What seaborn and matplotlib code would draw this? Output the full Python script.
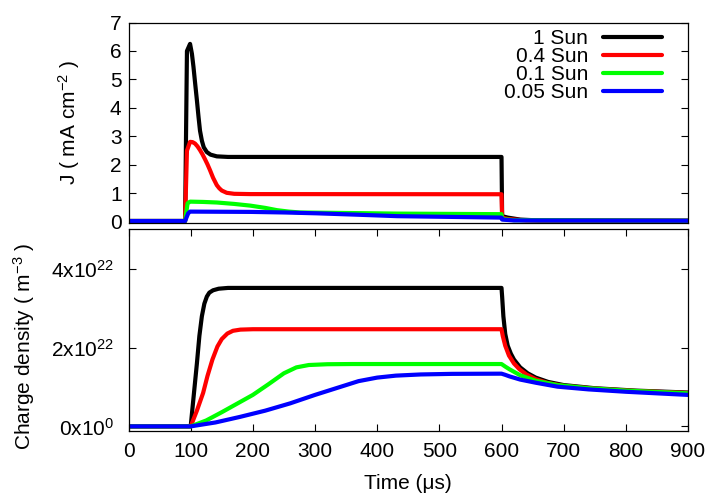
import numpy as np
import pandas as pd
import matplotlib
matplotlib.use("Agg")
import matplotlib.pyplot as plt
import seaborn as sns

# noms et couleurs des courbes
series_names = ["1 Sun", "0.4 Sun", "0.1 Sun", "0.05 Sun"]
series_colors = ["#000000", "#ff0000", "#00ff00", "#0000ff"]

# densite de courant J (mA cm^-2) en fonction du temps (us)
t_j_1sun = [0, 91, 94, 99, 102, 104.5, 107, 110, 112.6, 115, 118, 121, 126, 132, 142, 160,
            600, 601, 610, 630, 660, 900]
j_1sun = [0.03, 0.03, 6.0, 6.25, 5.9, 5.44, 4.9, 4.27, 3.69, 3.2, 2.85, 2.62, 2.45, 2.36, 2.3, 2.28,
          2.28, 0.2, 0.15, 0.08, 0.05, 0.04]

t_j_04sun = [0, 91, 94, 99, 103, 107, 111, 115, 119, 123, 127, 131, 136, 142, 146, 150, 158, 170, 196,
             600, 601, 610, 640, 900]
j_04sun = [0.03, 0.03, 2.5, 2.81, 2.8, 2.75, 2.65, 2.52, 2.37, 2.2, 2.02, 1.82, 1.55, 1.29, 1.18, 1.1,
           1.02, 0.985, 0.975, 0.97, 0.15, 0.1, 0.05, 0.04]

t_j_01sun = [0, 91, 95, 99, 120, 142, 170, 196, 220, 239, 258, 276, 357, 432, 600, 601, 620, 900]
j_01sun = [0.03, 0.03, 0.65, 0.71, 0.70, 0.68, 0.63, 0.57, 0.49, 0.41, 0.36, 0.33, 0.31, 0.29, 0.27,
           0.1, 0.06, 0.04]

t_j_005sun = [0, 91, 96, 99, 196, 250, 303, 370, 432, 600, 601, 620, 900]
j_005sun = [0.03, 0.03, 0.3, 0.36, 0.35, 0.33, 0.30, 0.25, 0.2, 0.15, 0.08, 0.05, 0.04]

# densite de charge (en 1e22 m^-3)
t_n_1sun = [0, 100, 105, 110, 114, 118, 122, 126, 130, 136, 145, 160, 600, 601, 603, 606, 610, 615,
            620, 630, 642, 655, 675, 700, 750, 815, 900]
n_1sun = [0, 0, 0.8, 1.6, 2.3, 2.8, 3.12, 3.3, 3.4, 3.46, 3.5, 3.52, 3.52, 3.3, 2.8, 2.35, 2.05, 1.85,
          1.7, 1.5, 1.35, 1.24, 1.13, 1.05, 0.97, 0.91, 0.86]

t_n_04sun = [0, 100, 110, 120, 127, 135, 143, 150, 159, 168, 180, 200, 600, 602, 606, 612, 620, 629,
             640, 655, 675, 700, 750, 815, 900]
n_04sun = [0, 0, 0.4, 0.85, 1.28, 1.7, 2.03, 2.22, 2.36, 2.43, 2.46, 2.47, 2.47, 2.3, 2.05, 1.8, 1.6,
           1.45, 1.32, 1.2, 1.1, 1.03, 0.96, 0.9, 0.85]

t_n_01sun = [0, 100, 125, 150, 175, 200, 225, 250, 270, 290, 320, 360, 600, 606, 613, 630, 655, 690,
             740, 800, 900]
n_01sun = [0, 0, 0.15, 0.36, 0.58, 0.8, 1.07, 1.35, 1.5, 1.56, 1.58, 1.585, 1.585, 1.52, 1.45, 1.3,
           1.16, 1.05, 0.97, 0.91, 0.84]

t_n_005sun = [0, 100, 140, 179, 220, 260, 300, 340, 370, 400, 430, 470, 520, 600, 606, 613, 630, 655,
              690, 740, 800, 900]
n_005sun = [0, 0, 0.1, 0.24, 0.4, 0.585, 0.8, 1.0, 1.15, 1.24, 1.29, 1.32, 1.335, 1.34, 1.31, 1.27,
            1.19, 1.11, 1.01, 0.94, 0.88, 0.80]

time_ticks = [0, 100, 200, 300, 400, 500, 600, 700, 800, 900]
j_ticks = [0, 1, 2, 3, 4, 5, 6, 7]
n_ticks = [0, 2e22, 4e22]
n_tick_labels = ["0x10$^{0}$", "2x10$^{22}$", "4x10$^{22}$"]

# tableaux longs pour seaborn
df_j = pd.concat([
    pd.DataFrame({"t": t, "v": v, "serie": name})
    for t, v, name in zip([t_j_1sun, t_j_04sun, t_j_01sun, t_j_005sun],
                          [j_1sun, j_04sun, j_01sun, j_005sun], series_names)
], ignore_index=True)
df_n = pd.concat([
    pd.DataFrame({"t": t, "v": np.array(v) * 1e22, "serie": name})
    for t, v, name in zip([t_n_1sun, t_n_04sun, t_n_01sun, t_n_005sun],
                          [n_1sun, n_04sun, n_01sun, n_005sun], series_names)
], ignore_index=True)

sns.set_style("ticks")
plt.rcParams['font.family'] = ['Liberation Sans', 'DejaVu Sans']
plt.rcParams['mathtext.default'] = 'regular'
plt.rcParams['font.size'] = 15
plt.rcParams['text.color'] = 'black'
plt.rcParams['axes.labelcolor'] = 'black'
plt.rcParams['xtick.color'] = 'black'
plt.rcParams['ytick.color'] = 'black'

fig = plt.figure(figsize=(7.12, 4.97), dpi=100)
ax1 = fig.add_axes([0.1805, 0.5513, 0.7858, 0.4034])
ax2 = fig.add_axes([0.1805, 0.1334, 0.7858, 0.4052])

palette = dict(zip(series_names, series_colors))
sns.lineplot(data=df_j, x="t", y="v", hue="serie", hue_order=series_names, palette=palette,
             estimator=None, sort=False, linewidth=3, legend=False, ax=ax1)
sns.lineplot(data=df_n, x="t", y="v", hue="serie", hue_order=series_names, palette=palette,
             estimator=None, sort=False, linewidth=3, legend=False, ax=ax2)

# panneau du haut
ax1.set_xlim(0, 900)
ax1.set_ylim(-0.04, 7.0)
ax1.set_yticks(j_ticks)
ax1.tick_params(axis='x', bottom=False, top=False, labelbottom=False)
ax1.tick_params(axis='y', direction='in', left=True, right=True, length=5, width=0.8,
                labelsize=15, pad=5, colors='black')
ax1.set_xlabel("")
ax1.set_ylabel("J ( mA cm$^{-2}$ )", fontsize=15, color='black')
ax1.yaxis.set_label_coords(-0.083, 0.5)
leg = ax1.legend(ax1.get_lines(), series_names, loc='upper right', bbox_to_anchor=(0.953, 0.968),
                 frameon=False, markerfirst=False, handlelength=2.83, handletextpad=0.7,
                 labelspacing=-0.05, borderpad=0, borderaxespad=0, fontsize=15)
for txt in leg.get_texts():
    txt.set_color('black')

# panneau du bas
ax2.set_xlim(0, 900)
ax2.set_ylim(-0.11e22, 5.01e22)
ax2.set_xticks(time_ticks)
ax2.set_yticks(n_ticks)
ax2.set_yticklabels(n_tick_labels)
ax2.tick_params(axis='both', direction='in', left=True, right=True, top=True, bottom=True,
                length=5, width=0.8, labelsize=15, colors='black')
ax2.tick_params(axis='x', pad=8)
ax2.tick_params(axis='y', pad=10.5)
ax2.set_xlabel("Time (\u03bcs)", fontsize=15, color='black')
ax2.xaxis.set_label_coords(0.5, -0.215)
ax2.set_ylabel("Charge density ( m$^{-3}$ )", fontsize=15, color='black')
ax2.yaxis.set_label_coords(-0.164, 0.42)

for ax in (ax1, ax2):
    for s in ax.spines.values():
        s.set_color('black')
        s.set_linewidth(0.9)

fig.savefig("out.png", dpi=100)
